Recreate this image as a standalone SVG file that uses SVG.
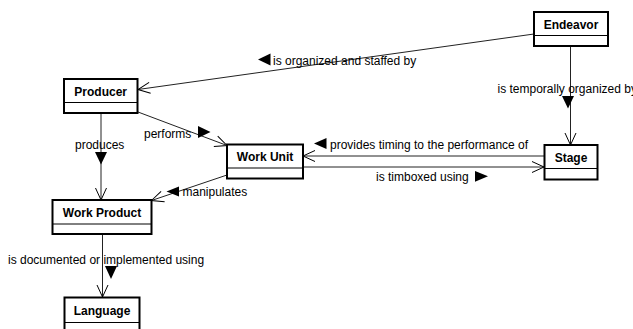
<svg xmlns="http://www.w3.org/2000/svg" width="633" height="329" viewBox="0 0 633 329">
<defs>
<marker id="open" markerUnits="userSpaceOnUse" markerWidth="14" markerHeight="14" viewBox="-1 -7 14 14" refX="12" refY="0" orient="auto">
<path d="M0,-5.5 L12,0 L0,5.5" fill="none" stroke="#000" stroke-width="1"/>
</marker>
</defs>
<style>
.box{fill:#fff;stroke:#000;stroke-width:2}
.div{stroke:#000;stroke-width:1}
.name{font-family:"Liberation Sans",Arial,sans-serif;font-size:12px;font-weight:bold;text-anchor:middle;fill:#000}
.lbl{font-family:"Liberation Sans",Arial,sans-serif;font-size:12px;fill:#000}
.edge{fill:none;stroke:#222;stroke-width:1;marker-end:url(#open)}
.tri{fill:#000}
</style>
<rect width="633" height="329" fill="#fff"/>
<g id="connectors">
<line class="edge" x1="534" y1="34" x2="138" y2="89.5"/>
<line class="edge" x1="570.5" y1="46" x2="570.5" y2="145"/>
<line class="edge" x1="138" y1="112" x2="227" y2="145.5"/>
<line class="edge" x1="101" y1="113" x2="101" y2="200"/>
<line class="edge" x1="544" y1="156" x2="303" y2="156"/>
<line class="edge" x1="303" y1="167" x2="544" y2="167"/>
<line class="edge" x1="227" y1="175" x2="151.5" y2="200.5"/>
<line class="edge" x1="102.5" y1="234" x2="102.5" y2="297"/>
<polygon class="tri" points="258,59.5 270.5,53.5 270.5,65.5"/>
<text class="lbl" x="273" y="65">is organized and staffed by</text>
<polygon class="tri" points="562,96 574,96 568,108.5"/>
<text class="lbl" x="497.5" y="93">is temporally organized by</text>
<polygon class="tri" points="198,126 210.5,132 198,138"/>
<text class="lbl" x="144" y="138">performs</text>
<polygon class="tri" points="95,152 107,152 101,164.5"/>
<text class="lbl" x="75" y="149">produces</text>
<polygon class="tri" points="314,143.5 326.5,138 326.5,149"/>
<text class="lbl" x="330" y="149">provides timing to the performance of</text>
<polygon class="tri" points="475,171 488,176.3 475,181.7"/>
<text class="lbl" x="376" y="181">is timboxed using</text>
<polygon class="tri" points="166.5,191.5 179,186.5 179,196.5"/>
<text class="lbl" x="182.5" y="196">manipulates</text>
<polygon class="tri" points="105,266 117,266 111,279"/>
<text class="lbl" x="8" y="264">is documented or implemented using</text>
</g>
<g id="endeavor">
<rect class="box" x="534" y="12" width="74" height="34"/>
<line class="div" x1="534" y1="35.5" x2="608" y2="35.5"/>
<text class="name" x="571" y="28.5">Endeavor</text>
</g>
<g id="producer">
<rect class="box" x="64" y="79" width="73.5" height="34"/>
<line class="div" x1="64" y1="102.5" x2="137.5" y2="102.5"/>
<text class="name" x="100.7" y="95.5">Producer</text>
</g>
<g id="work-unit">
<rect class="box" x="227" y="144.5" width="76" height="34"/>
<line class="div" x1="227" y1="168" x2="303" y2="168"/>
<text class="name" x="265" y="161">Work Unit</text>
</g>
<g id="stage">
<rect class="box" x="544.5" y="145" width="53" height="34.5"/>
<line class="div" x1="544.5" y1="168.5" x2="597.5" y2="168.5"/>
<text class="name" x="571" y="162">Stage</text>
</g>
<g id="work-product">
<rect class="box" x="52.5" y="200" width="99" height="34"/>
<line class="div" x1="52.5" y1="224" x2="151.5" y2="224"/>
<text class="name" x="102" y="216.5">Work Product</text>
</g>
<g id="language">
<rect class="box" x="64.5" y="297.5" width="75" height="40"/>
<line class="div" x1="64.5" y1="322.5" x2="139.5" y2="322.5"/>
<text class="name" x="102" y="315">Language</text>
</g>
</svg>
